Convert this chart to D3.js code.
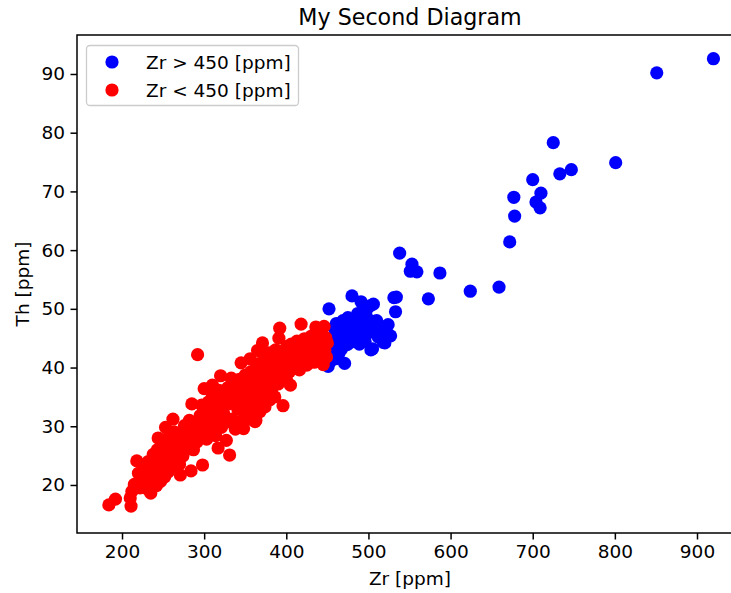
<!DOCTYPE html>
<html>
<head>
<meta charset="utf-8">
<script src="https://cdn.jsdelivr.net/npm/d3@7/dist/d3.min.js"></script>
<style>
  body { margin: 0; background: #fff; }
  text { font-family: "DejaVu Sans", sans-serif; fill: #000; }
</style>
</head>
<body>
<svg id="chart" width="731" height="593"></svg>
<script>
// ---- data (Zr [ppm], Th [ppm]) ----
const highZr = [
  [451,40.2],[452,50.0],[453,42.0],[454,41.1],[455,43.5],[456,45.0],[457,42.8],[458,46.8],[459,44.1],[460,41.5],
  [461,47.5],[462,43.6],[463,45.8],[464,42.4],[465,44.9],[466,47.0],[467,43.1],[468,46.2],[469,48.0],[470,44.5],
  [471,40.7],[472,46.9],[473,45.3],[474,43.9],[475,48.5],[476,46.0],[477,44.2],[478,47.3],[479,45.1],[480,52.2],
  [481,46.6],[482,48.2],[483,44.8],[484,47.0],[486,45.7],[487,49.2],[488,46.3],[489,44.0],[490,47.8],[491,51.2],
  [492,45.0],[493,48.7],[494,46.6],[495,50.0],[496,44.4],[497,49.5],[498,47.2],[500,45.9],[501,48.1],[502,50.5],
  [503,43.0],[504,47.6],[505,43.2],[506,50.8],[508,46.4],[510,48.0],[512,45.2],[515,47.0],[518,44.3],[520,44.2],
  [522,46.0],[524,47.3],[527,45.4],[531,51.9],[533,49.5],[534,52.0],[538,59.5],[551,56.4],[553,57.6],[559,56.3],
  [573,51.7],[587,56.1],[624,53.0],[659,53.7],[672,61.4],[678,65.8],[677,69.0],[704,68.2],[709,67.2],[710,69.7],
  [700,72.0],[725,78.3],[733,73.0],[747,73.7],[801,74.9],[851,90.2],[920,92.6]
];
const lowZr = [
  [184,16.6],[192,17.6],[211,16.4],[210,17.8],[212,18.9],[215,20.1],[218,24.1],[220,22.0],[222,19.5],[224,21.2],
  [226,23.4],[228,20.3],[230,22.7],[231,19.3],[232,24.0],[234,21.5],[235,18.6],[236,23.1],[238,25.2],[239,20.8],
  [240,22.3],[241,24.4],[242,19.9],[243,26.0],[244,21.8],[245,23.6],[246,25.1],[247,20.6],[248,27.5],[249,22.9],
  [250,24.7],[251,26.3],[252,21.4],[253,23.8],[254,27.8],[255,25.6],[256,22.2],[257,24.2],[258,28.1],[259,26.7],
  [260,23.0],[261,25.0],[262,27.1],[262,24.6],[264,29.0],[265,26.1],[266,24.5],[267,28.4],[268,25.7],[269,27.6],
  [270,23.5],[271,21.7],[272,26.9],[273,28.8],[274,24.9],[275,27.2],[276,30.1],[277,25.9],[278,28.0],[279,26.4],
  [280,29.7],[281,27.4],[282,31.0],[284,22.4],[285,28.9],[287,26.0],[288,30.2],[290,30.5],[291,27.3],[292,42.2],
  [293,28.9],[295,31.8],[297,33.6],[298,23.4],[299,29.6],[300,32.4],[302,30.9],[303,27.8],[305,34.1],[306,31.3],
  [308,29.2],[309,33.0],[310,35.2],[311,30.3],[313,32.7],[314,28.4],[315,34.8],[317,31.7],[318,36.1],[320,33.4],
  [321,29.8],[323,35.6],[324,32.1],[326,34.4],[327,30.7],[329,36.6],[330,33.8],[331,25.1],[332,35.1],[334,31.2],
  [335,37.0],[337,34.0],[338,29.5],[340,35.9],[341,32.9],[343,38.0],[344,34.7],[345,30.9],[347,36.4],[348,33.6],
  [350,38.7],[351,35.3],[352,31.8],[354,37.4],[355,34.2],[357,39.3],[358,36.0],[360,32.9],[361,38.2],[363,35.5],
  [364,40.6],[366,37.1],[367,33.9],[369,39.0],[370,36.4],[372,41.3],[373,38.3],[375,35.2],[376,40.0],[378,37.5],
  [379,42.5],[381,39.4],[382,36.1],[384,41.0],[385,38.6],[387,43.0],[388,40.2],[390,37.2],[391,45.0],[392,46.7],
  [393,41.7],[394,39.0],[396,33.5],[397,42.9],[398,40.4],[400,38.1],[401,43.6],[403,41.2],[404,39.3],[406,44.0],
  [407,42.1],[409,40.0],[410,43.2],[412,41.0],[413,44.5],[415,42.4],[416,39.6],[418,47.4],[419,43.4],[421,41.8],
  [422,44.9],[424,42.6],[425,40.4],[427,43.8],[428,41.3],[430,45.3],[431,42.9],[433,44.2],[434,40.9],[436,46.9],
  [437,43.5],[439,41.6],[440,45.6],[441,42.3],[443,46.5],[444,44.0],[445,40.5],[446,47.0],[447,43.0],[448,45.1],
  [449,41.8],[450,44.2],
  [342,30.0],[348,29.6],[356,31.2],[362,30.8],[368,32.5],[374,33.3],[380,34.5],[386,35.0],
  [300,36.4],[310,37.0],[320,38.6],[333,38.2],[345,40.8],[356,41.5],[365,42.9],[371,44.2],
  [253,29.8],[262,31.2],[244,28.0],[285,33.8],[327,27.6],[317,26.3],[363,31.0],[405,37.0]
];
const xTicks = [200, 300, 400, 500, 600, 700, 800, 900];
const yTicks = [20, 30, 40, 50, 60, 70, 80, 90];
const seriesNames = ["Zr > 450 [ppm]", "Zr < 450 [ppm]"];
const seriesColors = ["#0000ff", "#ff0000"];

// ---- layout ----
const L = 77, R = 743, T = 35, B = 533;
const x = d3.scaleLinear().domain([145.2, 956]).range([L, R]);
const y = d3.scaleLinear().domain([11.82, 96.64]).range([B, T]);
const svg = d3.select("#chart");
const FS = 18.5;

// points
const groups = [highZr, lowZr];
groups.forEach((data, i) => {
  svg.append("g").selectAll("circle").data(data).join("circle")
    .attr("cx", d => x(d[0])).attr("cy", d => y(d[1]))
    .attr("r", 6.6).attr("fill", seriesColors[i]);
});

// frame
svg.append("rect").attr("x", L).attr("y", T).attr("width", R - L).attr("height", B - T)
  .attr("fill", "none").attr("stroke", "#000").attr("stroke-width", 1.5);

// axes
const xAxis = d3.axisBottom(x).tickValues(xTicks).tickSize(6.5).tickPadding(5.5).tickFormat(d3.format("d"));
const gx = svg.append("g").attr("transform", `translate(0,${B})`).call(xAxis);
const yAxis = d3.axisLeft(y).tickValues(yTicks).tickSize(6.5).tickPadding(5.5).tickFormat(d3.format("d"));
const gy = svg.append("g").attr("transform", `translate(${L},0)`).call(yAxis);
[gx, gy].forEach(g => {
  g.select(".domain").remove();
  g.selectAll(".tick line").attr("stroke", "#000").attr("stroke-width", 1.5);
  g.selectAll(".tick text").style("font-family", "DejaVu Sans").style("font-size", FS + "px").attr("fill", "#000");
});

// labels
svg.append("text").attr("x", (L + R) / 2).attr("y", 25).attr("text-anchor", "middle")
  .style("font-size", "22.2px").text("My Second Diagram");
svg.append("text").attr("x", (L + R) / 2).attr("y", 585).attr("text-anchor", "middle")
  .style("font-size", FS + "px").text("Zr [ppm]");
svg.append("text").attr("transform", `translate(29,${(T + B) / 2}) rotate(-90)`).attr("text-anchor", "middle")
  .style("font-size", FS + "px").text("Th [ppm]");

// legend
const lg = svg.append("g");
lg.append("rect").attr("x", 86.5).attr("y", 45.5).attr("width", 212).attr("height", 60).attr("rx", 3.5)
  .attr("fill", "#fff").attr("fill-opacity", 0.8).attr("stroke", "#cccccc").attr("stroke-width", 1.3);
seriesNames.forEach((name, i) => {
  const cy = 62 + i * 28;
  lg.append("circle").attr("cx", 112).attr("cy", cy).attr("r", 6.6).attr("fill", seriesColors[i]);
  lg.append("text").attr("x", 146).attr("y", cy + 6.5).style("font-size", FS + "px").text(name);
});
</script>
</body>
</html>
